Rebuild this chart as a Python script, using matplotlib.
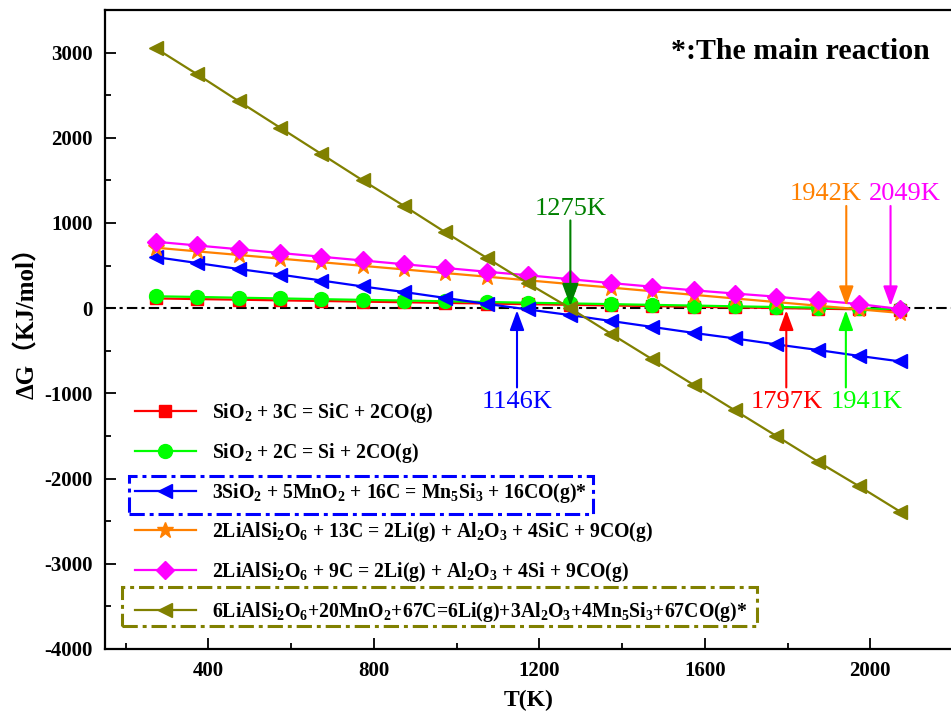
"""
Gibbs free energy change of the carbothermal reactions vs temperature.
"""

import matplotlib
matplotlib.use("Agg")
import matplotlib.pyplot as plt
from matplotlib.patches import Rectangle

plt.rcParams['font.family'] = ['Liberation Serif', 'Noto Sans CJK SC']
plt.rcParams['font.weight'] = 'bold'
plt.rcParams['mathtext.fontset'] = 'custom'
plt.rcParams['mathtext.rm'] = 'Liberation Serif:bold'
plt.rcParams['mathtext.default'] = 'rm'
plt.rcParams['axes.unicode_minus'] = False

# temperature points (K)
temps = [273, 373, 473, 573, 673, 773, 873, 973, 1073, 1173,
         1273, 1373, 1473, 1573, 1673, 1773, 1873, 1973, 2073]

# dG (kJ/mol) per reaction
dg_sic = [115, 107, 100, 92, 85, 77, 70, 62, 55, 47,
          40, 32, 25, 17, 9, 2, -6, -13, -21]
dg_si = [140, 132, 123, 115, 106, 98, 90, 81, 73, 64,
         56, 48, 39, 31, 22, 14, 6, -3, -11]
dg_mn5si3 = [600, 530, 460, 395, 325, 255, 190, 120, 50, -15,
             -80, -150, -220, -290, -355, -425, -490, -560, -625]
dg_li_sic = [710, 667, 625, 582, 540, 497, 455, 412, 370, 327,
             284, 242, 199, 157, 114, 72, 29, -13, -56]
dg_li_si = [780, 736, 692, 648, 604, 560, 516, 472, 428, 386,
            341, 295, 252, 210, 172, 135, 92, 48, -10]
dg_li_mn = [3050, 2745, 2430, 2120, 1810, 1500, 1200, 890, 590, 290,
            5, -300, -600, -900, -1200, -1500, -1800, -2090, -2390]

labels = [
    r"SiO$_2$ + 3C = SiC + 2CO(g)",
    r"SiO$_2$ + 2C = Si + 2CO(g)",
    r"3SiO$_2$ + 5MnO$_2$ + 16C = Mn$_5$Si$_3$ + 16CO(g)*",
    r"2LiAlSi$_2$O$_6$ + 13C = 2Li(g) + Al$_2$O$_3$ + 4SiC + 9CO(g)",
    r"2LiAlSi$_2$O$_6$ + 9C = 2Li(g) + Al$_2$O$_3$ + 4Si + 9CO(g)",
    r"6LiAlSi$_2$O$_6$+20MnO$_2$+67C=6Li(g)+3Al$_2$O$_3$+4Mn$_5$Si$_3$+67CO(g)*",
]
series = [dg_sic, dg_si, dg_mn5si3, dg_li_sic, dg_li_si, dg_li_mn]
colors = ['#FF0000', '#00FF00', '#0000FF', '#FF8000', '#FF00FF', '#808000']
markers = ['s', 'o', '<', '*', 'D', '<']
msizes = [9, 10, 10, 12, 9, 10]

# zero-crossing temperatures: (T, label, color, pointing down?)
crossings = [
    (1275, "1275K", '#008000', True),
    (1942, "1942K", '#FF8000', True),
    (2049, "2049K", '#FF00FF', True),
    (1146, "1146K", '#0000FF', False),
    (1797, "1797K", '#FF0000', False),
    (1941, "1941K", '#00FF00', False),
]

fig = plt.figure(figsize=(9.51, 7.17), dpi=100)
ax = fig.add_axes([105 / 951, 68 / 717, 848 / 951, 639 / 717])

ax.axhline(0, color='black', lw=1.5, ls=(0, (5, 2, 1.5, 2)), zorder=1)

for ys, lab, col, mk, ms in zip(series, labels, colors, markers, msizes):
    ax.plot(temps, ys, color=col, marker=mk, markersize=ms, lw=1.6,
            label=lab, zorder=3)

ax.set_xlim(150, 2200)
ax.set_ylim(-4000, 3500)
ax.set_xticks([400, 800, 1200, 1600, 2000])
ax.set_xticks(range(200, 2200, 200), minor=True)
ax.set_yticks(range(-4000, 3001, 1000))
ax.set_yticks(range(-4000, 3501, 500), minor=True)
ax.tick_params(which='both', direction='in', width=1.3, labelsize=15)
ax.tick_params(which='major', length=8, pad=9)
ax.tick_params(which='minor', length=4)
ax.tick_params(top=False, right=False)
for s in ax.spines.values():
    s.set_linewidth(1.6)

ax.set_xlabel("T(K)", fontsize=17, fontweight='bold', labelpad=6)
ax.set_ylabel("ΔG（KJ/mol）", fontsize=18, fontweight='bold')
ax.yaxis.set_label_coords(-0.078, 0.52)

# zero-crossing arrows
for t, txt, col, down in crossings:
    ms = 23 if t == 1275 else 20
    aprops = dict(arrowstyle='-|>,head_length=0.6,head_width=0.22',
                  color=col, lw=1.5, mutation_scale=ms,
                  shrinkA=0, shrinkB=0)
    if down:
        top = 1310 if t != 1275 else 1140
        ax.annotate('', xy=(t, 25), xytext=(t, top - 110),
                    arrowprops=aprops, zorder=5)
        dx = {1275: 0, 1942: -50, 2049: 35}[t]
        ax.text(t + dx, top - 100, txt, color=col, fontsize=19,
                fontweight='normal', ha='center', va='bottom')
    else:
        ax.annotate('', xy=(t, -25), xytext=(t, -930),
                    arrowprops=aprops, zorder=5)
        dx = {1146: 0, 1797: 0, 1941: 50}[t]
        ax.text(t + dx, -970, txt, color=col, fontsize=19,
                fontweight='normal', ha='center', va='top')

ax.text(0.972, 0.935, "*:The main reaction", transform=ax.transAxes,
        fontsize=21.5, fontweight='bold', ha='right', va='center')

leg = ax.legend(loc='upper left', bbox_to_anchor=(0.035, 0.388),
                frameon=False, fontsize=14.2, handlelength=3.1,
                handletextpad=0.8, labelspacing=0.8, borderpad=0,
                borderaxespad=0)

# boxes around the main reactions
box_ls = (0, (5, 1.6, 1.3, 1.6))
ax.add_patch(Rectangle((0.028, 0.211), 0.548, 0.060, transform=ax.transAxes,
                       fill=False, ec='#0000FF', lw=2.2, ls=box_ls, zorder=6))
ax.add_patch(Rectangle((0.020, 0.036), 0.749, 0.061, transform=ax.transAxes,
                       fill=False, ec='#808000', lw=2.2, ls=box_ls, zorder=6))

fig.savefig("out.png", dpi=100)
